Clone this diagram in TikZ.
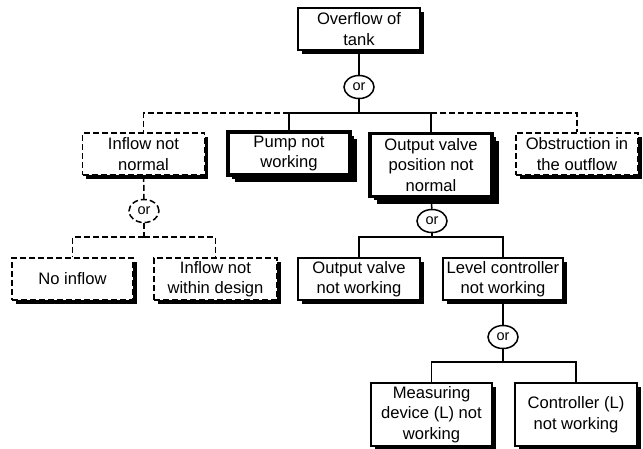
\documentclass[tikz,border=0pt]{standalone}
\usepackage{fontspec}
\setmainfont{Liberation Sans}
\usetikzlibrary{shapes.geometric,shadows}
\begin{document}
\begin{tikzpicture}[x=1pt,y=-1pt,
  every node/.style={font=\fontsize{16.6}{20.5}\selectfont, align=center, inner sep=0pt},
  event/.style={draw, fill=white, line width=1.7pt, minimum width=122pt, minimum height=42pt,
    drop shadow={shadow xshift=3.5pt, shadow yshift=-3.5pt, fill=black, opacity=1}},
  strong/.style={event, line width=3.2pt,
    drop shadow={shadow xshift=7pt, shadow yshift=-7pt, fill=black, opacity=1}},
  tall/.style={minimum height=63pt},
  dashbox/.style={dash pattern=on 6pt off 3pt},
  orgate/.style={ellipse, draw, fill=white, line width=1.5pt, minimum width=30pt, minimum height=23pt,
    font=\fontsize{14.5}{16}\selectfont},
  link/.style={line width=1.5pt},
  dlink/.style={link, dash pattern=on 6pt off 3pt}]
\useasboundingbox (0,0) rectangle (643,448);

% top event and first gate
\node[event] (top) at (359,29) {Overflow of\\tank};
\node[orgate] (or1) at (359,87) {or};
\coordinate (b1) at (359,113);

% first level
\node[event, dashbox] (inflow) at (143.5,154) {Inflow not\\normal};
\node[strong, minimum height=43pt] (pump) at (289,153.5) {Pump not\\working};
\node[strong, tall] (ovpos) at (431,165) {Output valve\\position not\\normal};
\node[event, dashbox] (obstr) at (577,154) {Obstruction in\\the outflow};

\draw[link] (top) -- (or1);
\draw[link] (or1) -- (b1);
\draw[link] (b1) -| (pump.north);
\draw[link] (b1) -| (ovpos.north);
\draw[dlink] (pump.north |- b1) -| (inflow.north);
\draw[dlink] (ovpos.north |- b1) -| (obstr.north);

% inflow branch
\node[orgate, dashbox] (or2) at (144,211) {or};
\coordinate (b2) at (144,237);
\node[event, dashbox, minimum width=121pt] (noin) at (72.5,279) {No inflow};
\node[event, dashbox, minimum width=123pt] (indes) at (215.5,279) {Inflow not\\within design};
\draw[dlink] (inflow) -- (or2);
\draw[dlink] (or2) -- (b2);
\draw[dlink] (b2) -| (noin.north);
\draw[dlink] (b2) -| (indes.north);

% output valve branch
\node[orgate] (or3) at (432,221) {or};
\coordinate (b3) at (432,237);
\node[event] (ovnw) at (359,279) {Output valve\\not working};
\node[event, minimum width=120pt] (lcnw) at (503,279) {Level controller\\not working};
\draw[link] (ovpos) -- (or3);
\draw[link] (or3) -- (b3);
\draw[link] (b3) -| (ovnw.north);
\draw[link] (b3) -| (lcnw.north);

% level controller branch
\node[orgate] (or4) at (503,337) {or};
\coordinate (b4) at (503,362);
\node[event, tall, minimum width=121pt] (meas) at (431.5,414.5) {Measuring\\device (L) not\\working};
\node[event, tall] (ctrl) at (576,414.5) {Controller (L)\\not working};
\draw[link] (lcnw) -- (or4);
\draw[link] (or4) -- (b4);
\draw[link] (b4) -| (meas.north);
\draw[link] (b4) -| (ctrl.north);
\end{tikzpicture}
\end{document}
